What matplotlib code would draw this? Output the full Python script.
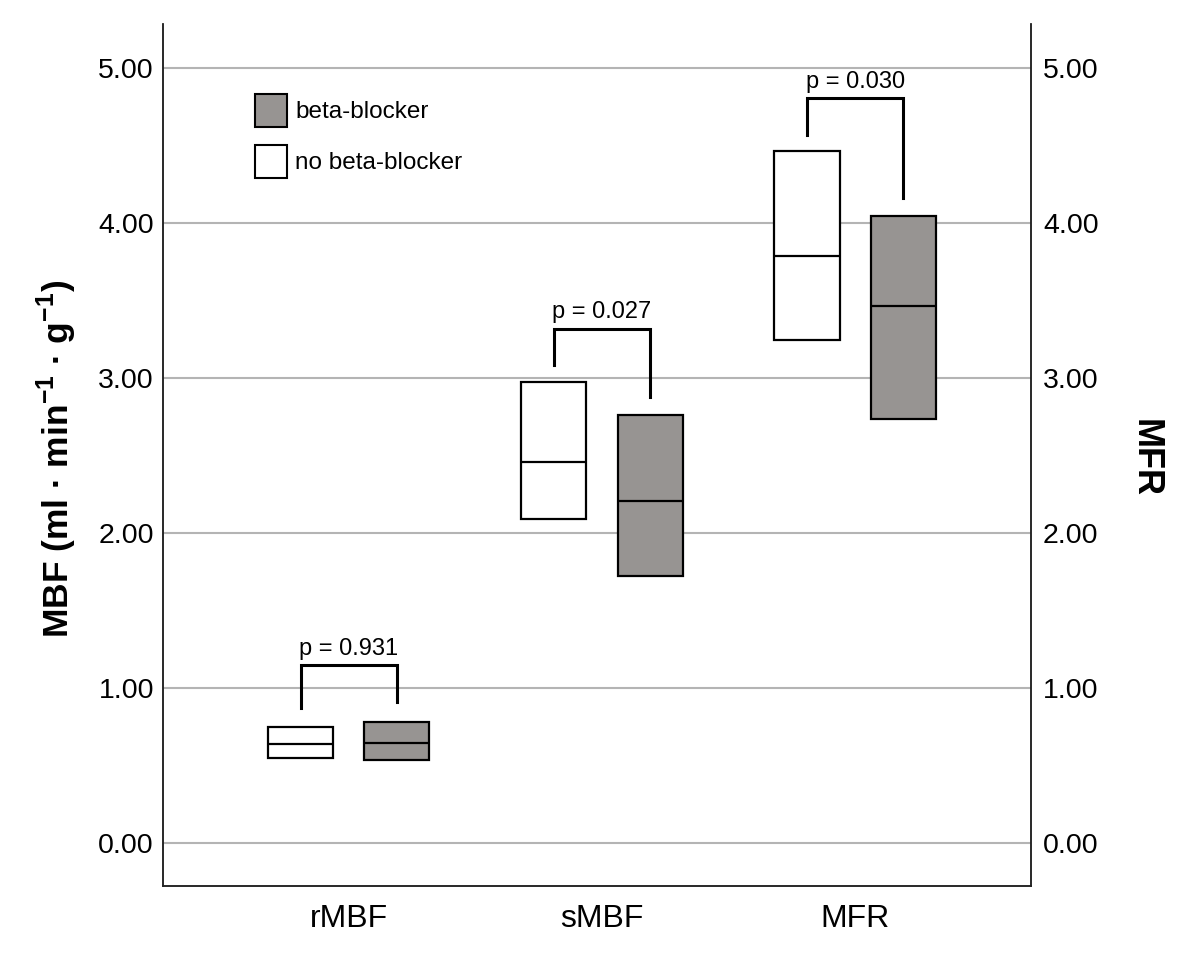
import numpy as np
import matplotlib
matplotlib.use('Agg')
import matplotlib.pyplot as plt
from matplotlib.patches import Patch

plt.rcParams['font.family'] = ['Liberation Sans', 'DejaVu Sans']
plt.rcParams['mathtext.fontset'] = 'custom'
plt.rcParams['mathtext.rm'] = 'Liberation Sans'
plt.rcParams['mathtext.bf'] = 'Liberation Sans:bold'

# ---- data ----
categories = ['rMBF', 'sMBF', 'MFR']

# boxes: lower quartile, median, upper quartile
no_bb_q1 = [0.550, 2.092, 3.245]
no_bb_med = [0.642, 2.462, 3.791]
no_bb_q3 = [0.752, 2.974, 4.466]

bb_q1 = [0.541, 1.725, 2.737]
bb_med = [0.647, 2.208, 3.466]
bb_q3 = [0.781, 2.763, 4.047]

# significance brackets
p_values = ['0.931', '0.027', '0.030']
bracket_top = [1.148, 3.320, 4.806]
bracket_left_end = [0.871, 3.086, 4.569]
bracket_right_end = [0.914, 2.877, 4.161]

y_ticks = [0, 1, 2, 3, 4, 5]

# ---- styles ----
gray = '#979492'
edge = 'black'
off = 0.19
w = 0.257

fig = plt.figure(figsize=(12, 9.66), dpi=100)
ax = fig.add_axes([163 / 1200, 80 / 966, 868 / 1200, 862 / 966])

x = np.arange(len(categories))
xa = x - off
xb = x + off

# no beta-blocker (white) and beta-blocker (gray)
ax.bar(xa, np.array(no_bb_q3) - np.array(no_bb_q1), bottom=no_bb_q1, width=w,
       color='white', edgecolor=edge, linewidth=1.6, zorder=3)
ax.hlines(no_bb_med, xa - w / 2, xa + w / 2, color=edge, linewidth=1.6, zorder=4)
ax.bar(xb, np.array(bb_q3) - np.array(bb_q1), bottom=bb_q1, width=w,
       color=gray, edgecolor=edge, linewidth=1.6, zorder=3)
ax.hlines(bb_med, xb - w / 2, xb + w / 2, color=edge, linewidth=1.6, zorder=4)

# brackets with p values
for i in range(len(categories)):
    ax.plot([xa[i], xa[i], xb[i], xb[i]],
            [bracket_left_end[i], bracket_top[i], bracket_top[i], bracket_right_end[i]],
            color=edge, linewidth=2.2, solid_joinstyle='miter', zorder=5)
    ax.annotate('p = ' + p_values[i], xy=(x[i], bracket_top[i]), xytext=(0, 4),
                textcoords='offset points', ha='center', va='bottom', fontsize=17)

ax.set_xlim(-0.734, 2.695)
ax.set_ylim(-0.275, 5.286)
ax.set_xticks(x)
ax.set_xticklabels(categories, fontsize=23)
ax.set_yticks(y_ticks)
ax.set_yticklabels(['%.2f' % t for t in y_ticks], fontsize=20.5)
ax.tick_params(axis='y', length=0, pad=6.5)
ax.tick_params(axis='x', length=0, pad=13)
ax.yaxis.grid(True, color='#b4b4b4', linewidth=1.5)
ax.set_axisbelow(True)

ax.spines['top'].set_visible(False)
for s in ['left', 'right', 'bottom']:
    ax.spines[s].set_color('#222222')
    ax.spines[s].set_linewidth(1.1)

ax2 = ax.twinx()
ax2.set_ylim(ax.get_ylim())
ax2.set_yticks(y_ticks)
ax2.set_yticklabels(['%.2f' % t for t in y_ticks], fontsize=20.5)
ax2.tick_params(axis='y', length=0, pad=8.6)
ax2.spines['top'].set_visible(False)
for s in ['left', 'right', 'bottom']:
    ax2.spines[s].set_color('#222222')
    ax2.spines[s].set_linewidth(1.1)

ax.set_ylabel(r'MBF (ml · min$^{\mathbf{-1}}$ · g$^{\mathbf{-1}}$)',
              fontsize=25.5, fontweight='bold')
ax.yaxis.set_label_coords(-0.097, 0.495)
ax.text(1.131, 0.4965, 'MFR', rotation=270, ha='center', va='center',
        transform=ax.transAxes, fontsize=26, fontweight='bold')

fs = 17.5
fs_px = fs * 100 / 72
hh = 1.708
handles = [Patch(facecolor=gray, edgecolor=edge, linewidth=1.5),
           Patch(facecolor='white', edgecolor=edge, linewidth=1.5)]
ax.legend(handles, ['beta-blocker', 'no beta-blocker'], loc='upper left',
          bbox_to_anchor=((255 - 163) / 868, (886 - 94) / 862),
          frameon=False, borderpad=0, borderaxespad=0, fontsize=fs,
          handlelength=32 / fs_px, handleheight=hh,
          labelspacing=18 / fs_px, handletextpad=8 / fs_px)

fig.savefig('out.png', dpi=100)
